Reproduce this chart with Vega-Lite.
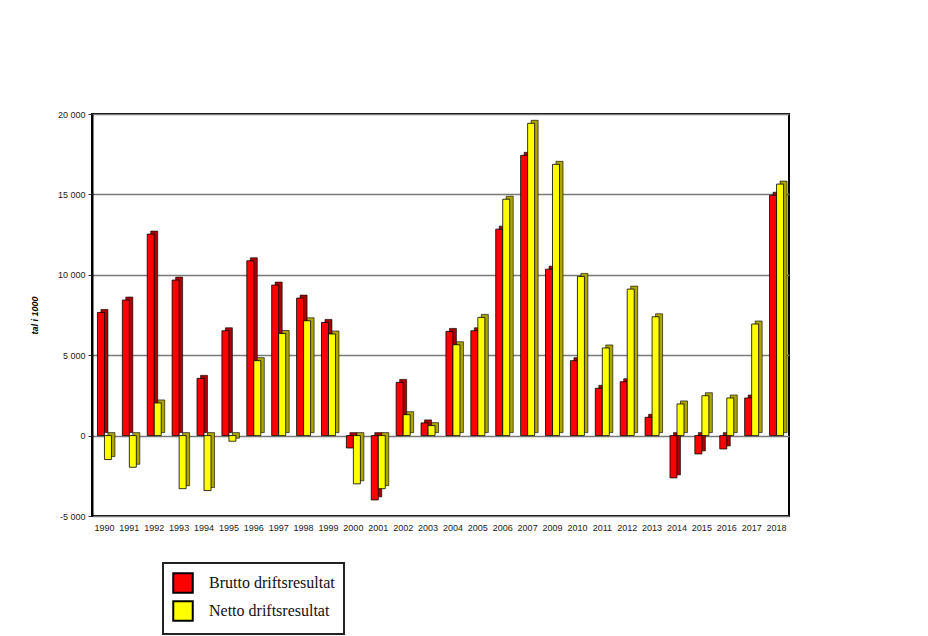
{
  "$schema": "https://vega.github.io/schema/vega-lite/v6.json",
  "autosize": {"type": "none"},
  "width": 697,
  "height": 402,
  "padding": {"left": 92, "top": 114, "right": 139, "bottom": 120},
  "background": "white",
  "config": {
    "locale": {"number": {"decimal": ",", "thousands": " ", "grouping": [3], "currency": ["", " kr"], "minus": "-"}},
    "view": {"stroke": "#000", "strokeWidth": 2},
    "font": "Liberation Sans"
  },
  "data": {
    "values": [
      {"year": "1990", "series": "Brutto driftsresultat", "value": 7660},
      {"year": "1990", "series": "Netto driftsresultat", "value": -1490},
      {"year": "1991", "series": "Brutto driftsresultat", "value": 8430},
      {"year": "1991", "series": "Netto driftsresultat", "value": -1970},
      {"year": "1992", "series": "Brutto driftsresultat", "value": 12530},
      {"year": "1992", "series": "Netto driftsresultat", "value": 2030},
      {"year": "1993", "series": "Brutto driftsresultat", "value": 9670},
      {"year": "1993", "series": "Netto driftsresultat", "value": -3300},
      {"year": "1994", "series": "Brutto driftsresultat", "value": 3560},
      {"year": "1994", "series": "Netto driftsresultat", "value": -3420},
      {"year": "1995", "series": "Brutto driftsresultat", "value": 6520},
      {"year": "1995", "series": "Netto driftsresultat", "value": -350},
      {"year": "1996", "series": "Brutto driftsresultat", "value": 10870},
      {"year": "1996", "series": "Netto driftsresultat", "value": 4660},
      {"year": "1997", "series": "Brutto driftsresultat", "value": 9360},
      {"year": "1997", "series": "Netto driftsresultat", "value": 6350},
      {"year": "1998", "series": "Brutto driftsresultat", "value": 8550},
      {"year": "1998", "series": "Netto driftsresultat", "value": 7140},
      {"year": "1999", "series": "Brutto driftsresultat", "value": 7040},
      {"year": "1999", "series": "Netto driftsresultat", "value": 6320},
      {"year": "2000", "series": "Brutto driftsresultat", "value": -770},
      {"year": "2000", "series": "Netto driftsresultat", "value": -3000},
      {"year": "2001", "series": "Brutto driftsresultat", "value": -4000},
      {"year": "2001", "series": "Netto driftsresultat", "value": -3300},
      {"year": "2002", "series": "Brutto driftsresultat", "value": 3310},
      {"year": "2002", "series": "Netto driftsresultat", "value": 1300},
      {"year": "2003", "series": "Brutto driftsresultat", "value": 790},
      {"year": "2003", "series": "Netto driftsresultat", "value": 620},
      {"year": "2004", "series": "Brutto driftsresultat", "value": 6480},
      {"year": "2004", "series": "Netto driftsresultat", "value": 5650},
      {"year": "2005", "series": "Brutto driftsresultat", "value": 6520},
      {"year": "2005", "series": "Netto driftsresultat", "value": 7350},
      {"year": "2006", "series": "Brutto driftsresultat", "value": 12840},
      {"year": "2006", "series": "Netto driftsresultat", "value": 14700},
      {"year": "2007", "series": "Brutto driftsresultat", "value": 17430},
      {"year": "2007", "series": "Netto driftsresultat", "value": 19420},
      {"year": "2009", "series": "Brutto driftsresultat", "value": 10350},
      {"year": "2009", "series": "Netto driftsresultat", "value": 16870},
      {"year": "2010", "series": "Brutto driftsresultat", "value": 4660},
      {"year": "2010", "series": "Netto driftsresultat", "value": 9900},
      {"year": "2011", "series": "Brutto driftsresultat", "value": 2940},
      {"year": "2011", "series": "Netto driftsresultat", "value": 5450},
      {"year": "2012", "series": "Brutto driftsresultat", "value": 3350},
      {"year": "2012", "series": "Netto driftsresultat", "value": 9110},
      {"year": "2013", "series": "Brutto driftsresultat", "value": 1140},
      {"year": "2013", "series": "Netto driftsresultat", "value": 7390},
      {"year": "2014", "series": "Brutto driftsresultat", "value": -2630},
      {"year": "2014", "series": "Netto driftsresultat", "value": 1970},
      {"year": "2015", "series": "Brutto driftsresultat", "value": -1140},
      {"year": "2015", "series": "Netto driftsresultat", "value": 2480},
      {"year": "2016", "series": "Brutto driftsresultat", "value": -830},
      {"year": "2016", "series": "Netto driftsresultat", "value": 2340},
      {"year": "2017", "series": "Brutto driftsresultat", "value": 2340},
      {"year": "2017", "series": "Netto driftsresultat", "value": 6940},
      {"year": "2018", "series": "Brutto driftsresultat", "value": 14950},
      {"year": "2018", "series": "Netto driftsresultat", "value": 15640}
    ]
  },
  "encoding": {
    "x": {
      "field": "year", "type": "nominal", "sort": null,
      "scale": {"paddingInner": 0, "paddingOuter": 0},
      "axis": {"title": null, "labelAngle": 0, "labelFontSize": 9, "labelColor": "#222", "ticks": false, "domain": false, "labelPadding": 7, "grid": false}
    },
    "y": {
      "field": "value", "type": "quantitative",
      "scale": {"domain": [-5000, 20000], "nice": false},
      "axis": {
        "title": "tal i 1000", "titleFontSize": 9, "titleFontStyle": "italic", "titleFontWeight": "bold", "titleColor": "#000", "titlePadding": 18,
        "values": [-5000, 0, 5000, 10000, 15000, 20000], "format": ",d",
        "labelFontSize": 9, "labelColor": "#222", "labelPadding": 3,
        "tickSize": 4, "tickColor": "#333",
        "domainColor": "#000", "domainWidth": 2,
        "grid": true, "gridColor": "#7a7a7a", "gridWidth": 1.5
      }
    }
  },
  "layer": [
    {
      "transform": [{"filter": "datum.series === 'Brutto driftsresultat'"}],
      "mark": {"type": "bar", "width": 7, "xOffset": 0, "yOffset": -3, "stroke": "#000", "strokeWidth": 0.6, "fill": "#a80000"}
    },
    {
      "transform": [{"filter": "datum.series === 'Netto driftsresultat'"}],
      "mark": {"type": "bar", "width": 7, "xOffset": 7, "yOffset": -3, "stroke": "#000", "strokeWidth": 0.6, "fill": "#aca400"}
    },
    {
      "transform": [{"filter": "datum.series === 'Brutto driftsresultat'"}],
      "mark": {"type": "bar", "width": 7, "xOffset": -3.5, "stroke": "#000", "strokeWidth": 0.8},
      "encoding": {
        "color": {
          "field": "series", "type": "nominal",
          "scale": {"domain": ["Brutto driftsresultat", "Netto driftsresultat"], "range": ["#ff0000", "#ffff00"]},
          "legend": {
            "title": null, "orient": "none", "legendX": 71, "legendY": 449,
            "direction": "vertical",
            "labelFont": "Liberation Serif", "labelFontSize": 16, "labelColor": "#111", "labelLimit": 300,
            "symbolType": "square", "symbolSize": 380, "symbolStrokeColor": "#000", "symbolStrokeWidth": 2,
            "symbolOpacity": 1,
            "rowPadding": 0, "labelOffset": 15,
            "strokeColor": "#222", "padding": 9, "fillColor": "white",
            "encode": {"legend": {"update": {"strokeWidth": {"value": 2}}}}
          }
        }
      }
    },
    {
      "transform": [{"filter": "datum.series === 'Netto driftsresultat'"}],
      "mark": {"type": "bar", "width": 7, "xOffset": 3.5, "stroke": "#000", "strokeWidth": 0.8},
      "encoding": {
        "color": {
          "field": "series", "type": "nominal",
          "scale": {"domain": ["Brutto driftsresultat", "Netto driftsresultat"], "range": ["#ff0000", "#ffff00"]}
        }
      }
    }
  ]
}
